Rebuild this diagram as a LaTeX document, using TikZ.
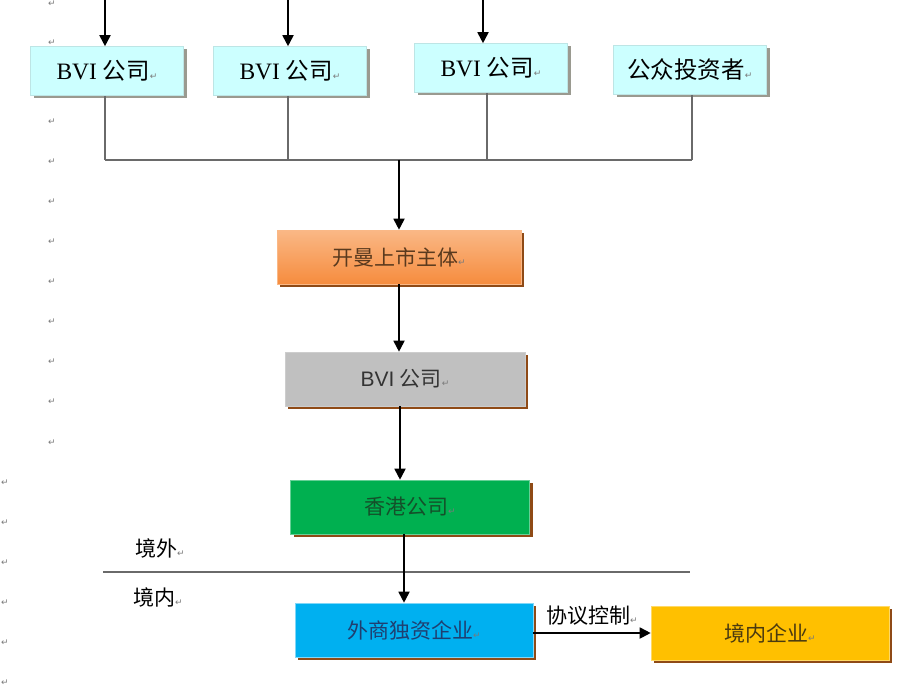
\documentclass[tikz,border=0pt]{standalone}
\usepackage{fontspec}
\setmainfont{Liberation Serif}
\newfontfamily\cjk{Noto Sans CJK SC}
\newfontfamily\arialfont{Liberation Sans}
\newfontfamily\dvfont{DejaVu Sans}
\usetikzlibrary{arrows.meta,shadows}

\definecolor{boxcyan}{HTML}{CCFFFF}
\definecolor{boxgray}{HTML}{C0C0C0}
\definecolor{boxgreen}{HTML}{00B050}
\definecolor{boxblue}{HTML}{00B0F0}
\definecolor{boxgold}{HTML}{FFC000}
\definecolor{orangetop}{HTML}{FAB886}
\definecolor{orangebot}{HTML}{F68C3E}
\definecolor{shadebrown}{HTML}{8F4A16}
\definecolor{shadegray}{HTML}{9A9A90}
\definecolor{retgray}{HTML}{7A7A7A}
\definecolor{linegray}{HTML}{6A6A6A}
\definecolor{txtbrown}{HTML}{5A3A1E}
\definecolor{txtgreen}{HTML}{14502A}
\definecolor{txtblue}{HTML}{1F3F70}
\definecolor{txtgold}{HTML}{4A3A10}

\newcommand{\retmark}{{\dvfont\fontsize{9}{9}\selectfont\color{retgray}↵}}

\begin{document}
\begin{tikzpicture}[x=1pt, y=-1pt,
	every node/.style={font=\fontsize{21}{24}\selectfont},
	box/.style={rectangle, minimum height=54pt, inner sep=0pt, draw=white!70!black, line width=0.6pt,
		drop shadow={shadow xshift=3pt, shadow yshift=-3pt, fill=shadebrown, opacity=1}},
	topbox/.style={box, fill=boxcyan, draw=boxcyan!80!gray, minimum width=153pt, minimum height=49pt,
		font=\fontsize{23.5}{26}\selectfont,
		drop shadow={shadow xshift=3pt, shadow yshift=-3pt, fill=shadegray, opacity=1}},
	arr/.style={-{Triangle[length=11pt,width=11pt]}, line width=1.8pt, black},
	link/.style={line width=1.3pt, linegray}]
	\useasboundingbox (0,0) rectangle (917,687);

	% paragraph marks in the margin
	\foreach \y in {4, 43, 122, 162, 202, 242, 282, 322, 362, 402, 443} {
		\node at (52,\y) {\retmark};
	}
	\foreach \y in {483, 523, 563, 603, 643, 683} {
		\node at (5,\y) {\retmark};
	}

	% top row
	\node[topbox] (bvia) at (107,71) {BVI {\cjk 公司}\retmark};
	\node[topbox] (bvib) at (290,71) {BVI {\cjk 公司}\retmark};
	\node[topbox] (bvic) at (491,68) {BVI {\cjk 公司}\retmark};
	\node[topbox] (pub) at (690,70) {\cjk 公众投资者\retmark};

	% chain
	\node[box, minimum width=244pt, top color=orangetop, bottom color=orangebot, draw=orangetop,
		text=txtbrown] (cayman) at (399,257) {\cjk 开曼上市主体\retmark};
	\node[box, minimum width=240pt, fill=boxgray, draw=boxgray!80!white, text=black!80]
		(bvimid) at (405,379) {{\arialfont BVI} {\cjk 公司}\retmark};
	\node[box, minimum width=239pt, fill=boxgreen, draw=boxgreen!60!white, text=txtgreen]
		(hk) at (410,507) {\cjk 香港公司\retmark};
	\node[box, minimum width=238pt, fill=boxblue, draw=boxblue!50!white, text=txtblue]
		(wfoe) at (414,630) {\cjk 外商独资企业\retmark};
	\node[box, minimum width=238pt, fill=boxgold, draw=boxgold!60!white, text=txtgold]
		(dom) at (770,633) {\cjk 境内企业\retmark};

	% border labels
	\node (abroad) at (160,548) {\cjk 境外\retmark};
	\node (inland) at (158,597) {\cjk 境内\retmark};
	\coordinate (sepl) at (103,572);
	\coordinate (sepr) at (690,572);
	\draw[link] (sepl) -- (sepr);

	% incoming arrows
	\foreach \n/\dx in {bvia/-2, bvib/-2, bvic/-8} {
		\coordinate (in-\n) at ([xshift=\dx pt]\n.north |- 0,0);
		\draw[arr] (in-\n) -- (in-\n |- \n.north);
	}

	% joining lines
	\coordinate (join) at (0,160);
	\foreach \n/\dx in {bvia/-2, bvib/-2, bvic/-4, pub/2} {
		\draw[link] ([xshift=\dx pt]\n.south) -- ([xshift=\dx pt]\n.south |- join);
	}
	\draw[link] ([xshift=-2pt]bvia.south |- join) -- ([xshift=2pt]pub.south |- join);
	\draw[arr] (cayman.north |- join) -- (cayman.north);

	\draw[arr] (cayman.south) -- (cayman.south |- bvimid.north);
	\draw[arr] ([xshift=-5pt]bvimid.south) -- ([xshift=-5pt]bvimid.south |- hk.north);
	\draw[arr] ([xshift=-6pt]hk.south) -- ([xshift=-6pt]hk.south |- wfoe.north);
	\draw[arr] (wfoe.east |- dom.west) -- node[above, yshift=3pt] (ctl) {\cjk 协议控制\retmark} (dom.west);
\end{tikzpicture}
\end{document}
